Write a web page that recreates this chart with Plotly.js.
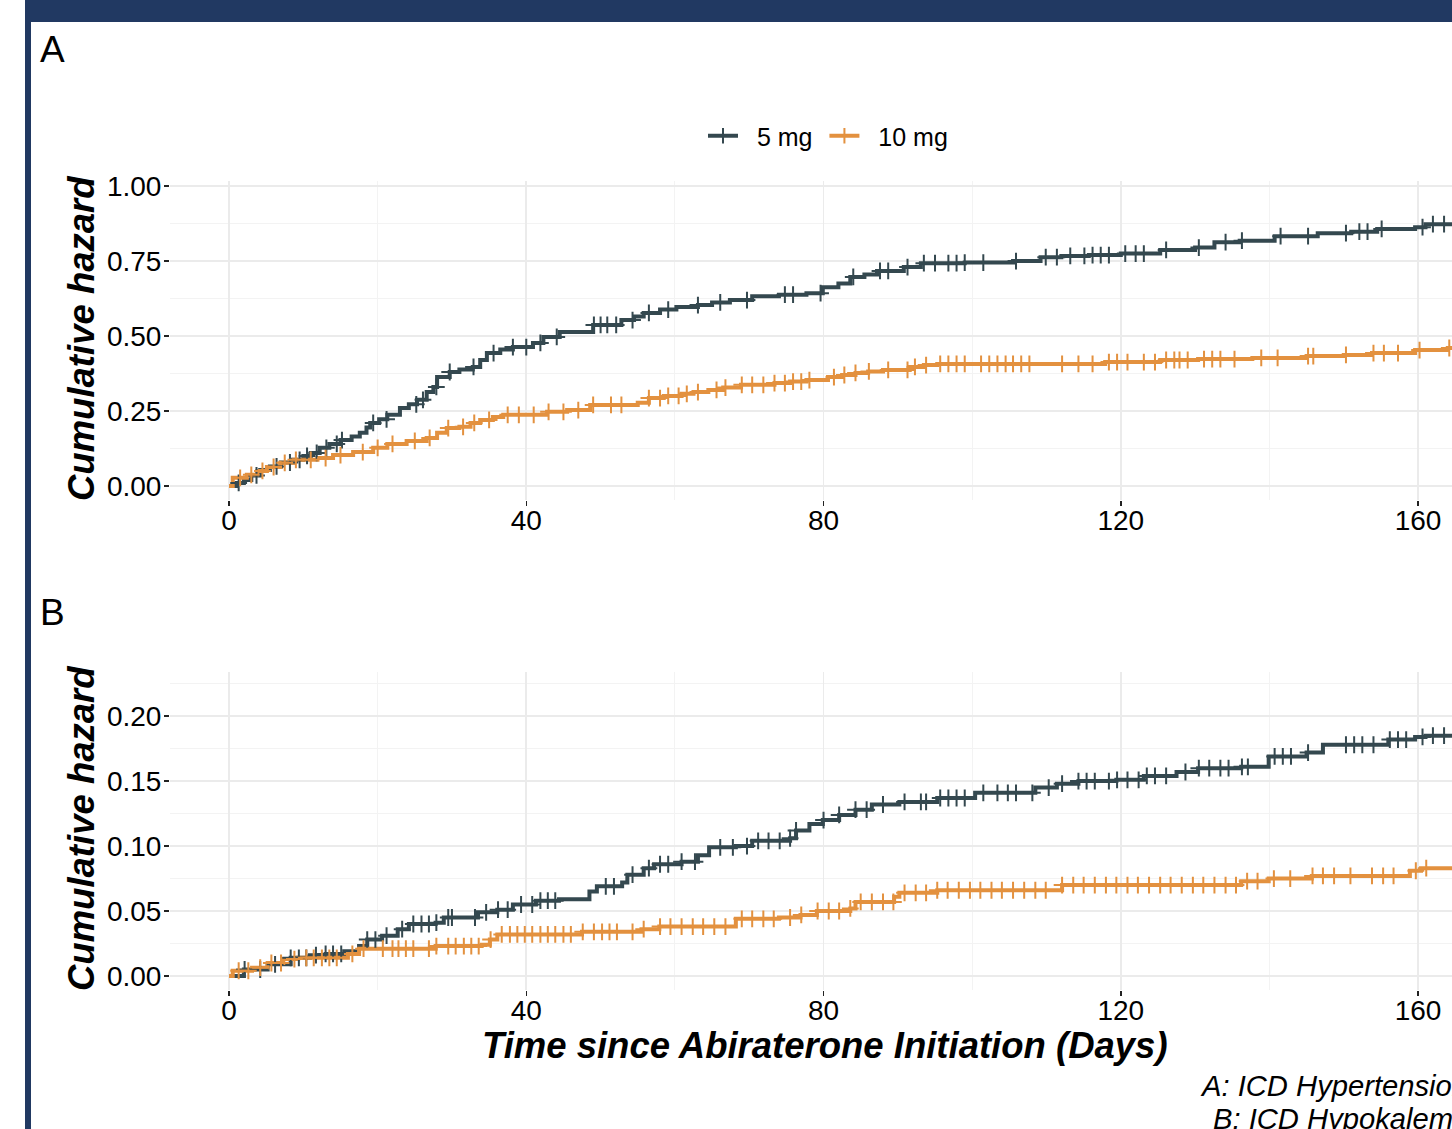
<!DOCTYPE html>
<html>
<head>
<meta charset="utf-8">
<script src="https://cdn.plot.ly/plotly-3.0.1.min.js"></script>
<style>
html, body { margin: 0; padding: 0; overflow: hidden; background: #fff; }
#chart { width: 1500px; height: 1129px; }
</style>
</head>
<body>
<div id="chart"></div>
<script>
// ---------------- DATA ----------------
const seriesNames = ["5 mg", "10 mg"];
const seriesColors = ["#34484F", "#E3913F"];

// Panel A: ICD Hypertension — step times (days) and cumulative hazard
const timeA5 = [0, 1, 2, 3, 4.2, 5.5, 7, 8.6, 10, 11, 12.2, 13.5, 15, 16.5, 17.6, 18.5, 19, 20.2, 21.3, 23, 24.2, 25.3, 26.6, 27.5, 28, 29.7, 31, 32.8, 33.8, 34.7, 36.5, 38.2, 40.9, 42.3, 44.5, 49, 52.8, 54.5, 55.8, 58, 60.2, 63.1, 65, 67.4, 70.4, 74, 77.7, 79.9, 82, 83.6, 85.5, 87.2, 90.8, 93.1, 99, 105.5, 109.2, 112, 115.7, 120, 125.3, 130, 132.6, 136, 140.7, 146.5, 151, 154.5, 159.6, 161, 170];
const hazA5 = [0, 0.01, 0.02, 0.035, 0.053, 0.065, 0.078, 0.087, 0.1, 0.11, 0.127, 0.14, 0.153, 0.165, 0.177, 0.195, 0.21, 0.222, 0.237, 0.26, 0.272, 0.287, 0.313, 0.33, 0.363, 0.38, 0.388, 0.397, 0.42, 0.443, 0.455, 0.463, 0.477, 0.497, 0.513, 0.537, 0.553, 0.565, 0.577, 0.588, 0.597, 0.603, 0.612, 0.62, 0.633, 0.638, 0.643, 0.663, 0.675, 0.697, 0.705, 0.717, 0.73, 0.743, 0.745, 0.75, 0.763, 0.767, 0.77, 0.775, 0.787, 0.795, 0.813, 0.818, 0.833, 0.843, 0.848, 0.857, 0.863, 0.873, 0.873];
const censA5 = [1.3, 3.7, 6.4, 8.2, 9.5, 10.5, 11.8, 13.1, 14.5, 15.2, 19.4, 21.2, 25.2, 26.1, 27.9, 29.7, 32.9, 35.6, 38.2, 40, 41.9, 44.1, 49.1, 50, 50.9, 52.1, 54.3, 56.5, 59.1, 63.1, 66.1, 69.7, 74.8, 75.9, 79.6, 84, 87.6, 88.7, 91.3, 93.5, 95, 96.8, 97.9, 99, 101.5, 105.9, 109.9, 111.4, 113.2, 115.1, 116.2, 117.3, 118.4, 120.6, 122, 123.1, 126.1, 130.5, 134.1, 136.3, 141.5, 145.2, 150.3, 152.1, 153.2, 155.1, 160.6, 162, 163.5, 165, 166.5];

const timeA10 = [0, 0.5, 2.4, 3.8, 5.1, 6.9, 8.7, 11.9, 14, 16.7, 19.4, 21.3, 23.9, 26.6, 28, 29.3, 31, 32.5, 33.8, 35.5, 36.9, 42.8, 45.5, 48.6, 55, 56.5, 58.5, 60.9, 62.5, 64.5, 66.5, 68.9, 73.4, 75.5, 77.7, 80.6, 82.5, 84.3, 86, 88, 91.6, 93.5, 95.3, 117.9, 125.3, 130.4, 137.7, 145, 150, 153.8, 159.6, 164, 170];
const hazA10 = [0, 0.027, 0.037, 0.05, 0.063, 0.077, 0.087, 0.093, 0.103, 0.113, 0.127, 0.14, 0.15, 0.16, 0.177, 0.193, 0.197, 0.21, 0.22, 0.23, 0.237, 0.247, 0.253, 0.27, 0.277, 0.293, 0.3, 0.307, 0.313, 0.32, 0.328, 0.337, 0.343, 0.348, 0.353, 0.363, 0.37, 0.377, 0.382, 0.387, 0.397, 0.403, 0.407, 0.413, 0.42, 0.423, 0.427, 0.433, 0.437, 0.443, 0.453, 0.46, 0.46];
const censA10 = [1.5, 3, 4.5, 6, 7.5, 9, 11, 13, 15, 18, 20, 22, 25, 27, 29.5, 31.5, 33, 35, 37.5, 39, 41, 43, 45, 47, 49, 51.4, 52.8, 56.5, 58, 59.1, 60.5, 61.6, 63.1, 65.6, 66.8, 69, 70.4, 71.9, 73.4, 74.8, 75.9, 77, 78.1, 81.4, 82.8, 84.3, 86.1, 88.7, 91.3, 92.3, 93.8, 95.7, 96.8, 97.9, 99, 101.2, 102.3, 103.4, 104.5, 105.5, 106.6, 107.7, 112.1, 114.3, 116.2, 118.4, 119.5, 120.9, 123.1, 124.6, 126.1, 127.2, 127.9, 129, 131.2, 132.3, 133.4, 135.3, 138.9, 141.1, 145.2, 145.9, 150.3, 154, 155.4, 157.3, 160.2, 164.2];

// Panel B: ICD Hypokalemia
const timeB5 = [0, 2, 5.2, 8.3, 10.9, 13, 15.5, 17.5, 18.6, 20.6, 22.7, 24.2, 27.8, 28.9, 33.5, 36.1, 38.2, 41.3, 44.4, 48.5, 49.5, 52.9, 53.6, 55.8, 57.2, 60.9, 63.1, 64.6, 68.2, 70.4, 75.5, 76.3, 78.1, 79.9, 82.1, 84.3, 86.5, 90.2, 95.3, 100.4, 108.5, 111.4, 114.3, 119.4, 123.1, 127.5, 130.4, 136.2, 139.9, 145, 147.2, 156, 159.6, 161, 170];
const hazB5 = [0, 0.005, 0.009, 0.014, 0.016, 0.017, 0.019, 0.023, 0.028, 0.031, 0.036, 0.04, 0.041, 0.045, 0.049, 0.051, 0.055, 0.058, 0.059, 0.065, 0.069, 0.072, 0.078, 0.083, 0.086, 0.088, 0.093, 0.099, 0.1, 0.104, 0.106, 0.112, 0.117, 0.12, 0.124, 0.128, 0.132, 0.134, 0.137, 0.141, 0.145, 0.148, 0.15, 0.151, 0.154, 0.157, 0.16, 0.161, 0.169, 0.172, 0.178, 0.182, 0.184, 0.185, 0.185];
const censB5 = [2.1, 4.2, 6.2, 8.3, 9.4, 10.4, 11.7, 13, 14, 15.1, 18.6, 19.7, 21.2, 23.3, 24.8, 25.9, 26.9, 27.9, 29.5, 30, 33.1, 34.6, 36.2, 37.5, 39.3, 40.8, 41.9, 42.9, 43.9, 50.7, 51.8, 54.3, 56.5, 58, 59.1, 60.9, 62.7, 66.1, 67.8, 69.7, 71.2, 72.6, 74.1, 75.5, 76.3, 80, 82.1, 84.3, 85.8, 88, 90.9, 93.1, 93.8, 95.7, 96.8, 97.9, 99, 101.5, 103.4, 104.8, 105.9, 108.1, 110.3, 112.1, 114.3, 115.4, 116.5, 118.4, 119.5, 120.9, 122.4, 123.5, 124.6, 126.1, 128.7, 130.5, 131.9, 133.4, 134.5, 136.3, 137.1, 140.7, 141.8, 142.9, 145.2, 150.3, 151.4, 152.5, 154, 156.2, 157.3, 158.4, 160.6, 162, 163.5, 165];

const timeB10 = [0, 0.5, 3.1, 5.2, 7.3, 9.3, 16, 17.5, 27.8, 34, 35.1, 36.1, 47.5, 55.5, 57.9, 68.2, 74, 76.9, 79.1, 83.6, 84.3, 89.5, 90.2, 95.3, 112.1, 136.2, 139.9, 145.7, 158.9, 160.4, 170];
const hazB10 = [0, 0.004, 0.0064, 0.01, 0.013, 0.014, 0.017, 0.021, 0.023, 0.024, 0.028, 0.032, 0.034, 0.036, 0.038, 0.044, 0.045, 0.047, 0.05, 0.052, 0.057, 0.061, 0.064, 0.066, 0.07, 0.073, 0.075, 0.077, 0.081, 0.083, 0.083];
const censB10 = [1.3, 2.6, 4.2, 5.7, 7, 8.8, 10.4, 11.4, 12.5, 13.5, 14.5, 16.6, 18.1, 20.7, 22, 22.8, 23.8, 24.8, 26.9, 27.9, 29.5, 30.5, 31.6, 32.6, 33.6, 35.2, 36.7, 37.8, 38.8, 39.8, 40.8, 41.9, 42.9, 43.9, 45, 46, 47.6, 49.1, 50.2, 51.2, 52.2, 54.3, 55.8, 58, 59.4, 60.9, 62.4, 63.8, 65.3, 66.8, 69, 70.4, 71.9, 73.3, 75.5, 77, 79.2, 80.7, 82.1, 83.6, 85, 86.5, 88, 89.4, 90.9, 92.4, 93.8, 95.3, 96.7, 98.2, 99.7, 101.1, 102.6, 104, 105.5, 107, 108.5, 109.9, 112.1, 113.6, 115, 116.5, 118, 119.4, 120.9, 122.3, 123.8, 125.3, 126.7, 128.2, 129.7, 131.1, 132.6, 134.1, 135.5, 137, 138.4, 140.6, 142.8, 145.8, 147.2, 148.7, 150.9, 153.8, 155.3, 156.7, 159.7, 161.1];

const xTitle = "Time since Abiraterone Initiation (Days)";
const yTitle = "Cumulative hazard";
const panelLabels = ["A", "B"];
const captionLines = ["A: ICD Hypertension", "B: ICD Hypokalemia"];

// ---------------- HELPERS ----------------
function stepAt(times, haz, t) {
  let v = haz[0];
  for (let i = 0; i < times.length; i++) { if (times[i] <= t) v = haz[i]; else break; }
  return v;
}
const FONT = "Liberation Sans, Arial, Helvetica, sans-serif";
const W = 1500, H = 1129;
const L = 170, R = 1479, T = 181, B = 990;
const px = x => (x - L) / (R - L);
const py = y => (B - y) / (B - T);
const NB = "\u00A0";

function lineTrace(times, haz, color, xa, ya) {
  return { x: times, y: haz, xaxis: xa, yaxis: ya, type: "scatter", mode: "lines",
    line: { shape: "hv", color: color, width: 4 }, showlegend: false, hoverinfo: "skip" };
}
function censTrace(cens, times, haz, color, xa, ya) {
  return { x: cens, y: cens.map(t => stepAt(times, haz, t)), xaxis: xa, yaxis: ya,
    type: "scatter", mode: "markers", showlegend: false, hoverinfo: "skip",
    marker: { symbol: "cross-thin", size: 12, color: color, line: { color: color, width: 2 } } };
}
function legendTrace(name, color) {
  return { x: [null], y: [null], type: "scatter", mode: "lines+markers", name: name,
    line: { color: color, width: 4 },
    marker: { symbol: "cross-thin", size: 11, color: color, line: { color: color, width: 2 } } };
}

const data = [
  lineTrace(timeA5, hazA5, seriesColors[0], "x", "y"),
  lineTrace(timeA10, hazA10, seriesColors[1], "x", "y"),
  censTrace(censA5, timeA5, hazA5, seriesColors[0], "x", "y"),
  censTrace(censA10, timeA10, hazA10, seriesColors[1], "x", "y"),
  lineTrace(timeB5, hazB5, seriesColors[0], "x2", "y2"),
  lineTrace(timeB10, hazB10, seriesColors[1], "x2", "y2"),
  censTrace(censB5, timeB5, hazB5, seriesColors[0], "x2", "y2"),
  censTrace(censB10, timeB10, hazB10, seriesColors[1], "x2", "y2"),
  legendTrace(NB + NB + seriesNames[0] + NB, seriesColors[0]),
  legendTrace(NB + NB + seriesNames[1], seriesColors[1])
];

const gridC = "#EBEBEB", minorC = "#F3F3F3";
function xAxis(anchor) {
  return { anchor: anchor, domain: [0, 1], range: [-7.94, 168.2], tick0: 0, dtick: 40,
    ticks: "outside", ticklen: 5, tickwidth: 1.4, tickcolor: "#222", ticklabelstandoff: -10,
    showgrid: true, gridcolor: gridC, gridwidth: 1.6, zeroline: false, showline: false,
    minor: { tick0: 0, dtick: 20, showgrid: true, gridcolor: minorC, gridwidth: 1, ticks: "" },
    tickfont: { family: FONT, size: 28, color: "#000" }, automargin: false, fixedrange: true };
}
function yAxis(anchor, domain, range, dtick, minorDtick) {
  return { anchor: anchor, domain: domain, range: range, tick0: 0, dtick: dtick, tickformat: ".2f",
    ticks: "outside", ticklen: 5, tickwidth: 1.4, tickcolor: "#222", ticklabelstandoff: -3,
    showgrid: true, gridcolor: gridC, gridwidth: 1.6, zeroline: false, showline: false,
    minor: { tick0: 0, dtick: minorDtick, showgrid: true, gridcolor: minorC, gridwidth: 1, ticks: "" },
    tickfont: { family: FONT, size: 28, color: "#000" }, automargin: false, fixedrange: true };
}

const titleFont = { family: FONT, size: 36.5, color: "#000", weight: "bold", style: "italic" };
const borderC = "#213962";
const layout = {
  width: W, height: H,
  margin: { l: L, r: W - R, t: T, b: H - B, pad: 0 },
  paper_bgcolor: "#fff", plot_bgcolor: "#fff",
  font: { family: FONT, color: "#000" },
  xaxis: xAxis("y"),
  yaxis: yAxis("x", [py(500), 1], [-0.047, 1.017], 0.25, 0.125),
  xaxis2: xAxis("y2"),
  yaxis2: yAxis("x2", [0, py(672)], [-0.0108, 0.234], 0.05, 0.025),
  showlegend: true,
  legend: { orientation: "h", x: px(828), xanchor: "center", y: py(136), yanchor: "middle",
    font: { family: FONT, size: 25, color: "#000" }, bgcolor: "rgba(0,0,0,0)",
    itemwidth: 30, tracegroupgap: 0, itemclick: false, itemdoubleclick: false },
  annotations: [
    { text: panelLabels[0], xref: "paper", yref: "paper", x: px(38), y: py(49), xanchor: "left", yanchor: "middle",
      showarrow: false, font: { family: FONT, size: 37, color: "#000" } },
    { text: panelLabels[1], xref: "paper", yref: "paper", x: px(38), y: py(612), xanchor: "left", yanchor: "middle",
      showarrow: false, font: { family: FONT, size: 37, color: "#000" } },
    { text: yTitle, xref: "paper", yref: "paper", x: px(81), y: py(339), xanchor: "center", yanchor: "middle",
      textangle: -90, showarrow: false, font: titleFont },
    { text: yTitle, xref: "paper", yref: "paper", x: px(81), y: py(829), xanchor: "center", yanchor: "middle",
      textangle: -90, showarrow: false, font: titleFont },
    { text: xTitle, xref: "paper", yref: "paper", x: px(824.5), y: py(1045), xanchor: "center", yanchor: "middle",
      showarrow: false, font: titleFont },
    { text: captionLines[0], xref: "paper", yref: "paper", x: px(1198), y: py(1086), xanchor: "left", yanchor: "middle",
      showarrow: false, font: { family: FONT, size: 29.2, color: "#000", style: "italic" } },
    { text: captionLines[1], xref: "paper", yref: "paper", x: px(1211), y: py(1119), xanchor: "left", yanchor: "middle",
      showarrow: false, font: { family: FONT, size: 29.2, color: "#000", style: "italic" } }
  ],
  shapes: [
    { type: "rect", xref: "paper", yref: "paper", x0: px(25), x1: px(31), y0: py(H + 5), y1: py(-5),
      fillcolor: borderC, line: { width: 0 }, layer: "above" },
    { type: "rect", xref: "paper", yref: "paper", x0: px(25), x1: px(W + 5), y0: py(22), y1: py(-5),
      fillcolor: borderC, line: { width: 0 }, layer: "above" }
  ]
};

Plotly.newPlot("chart", data, layout, { displayModeBar: false, staticPlot: true });
</script>
</body>
</html>
